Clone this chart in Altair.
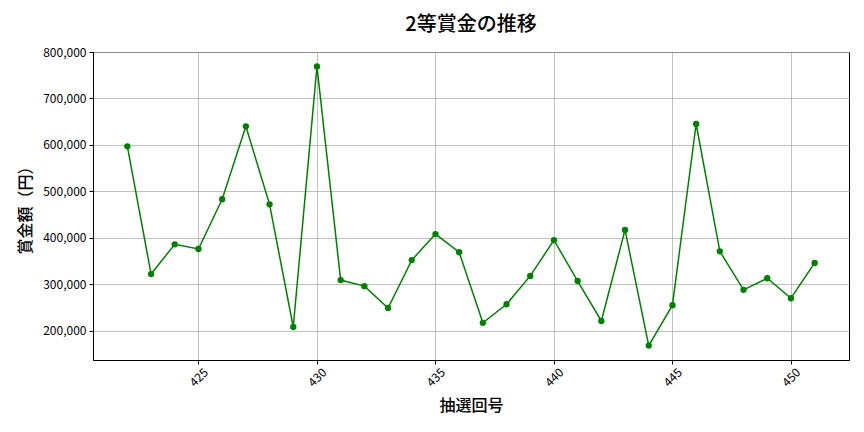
import altair as alt
import pandas as pd

draws = list(range(422, 452))
prizes = [597000, 322000, 386000, 376000, 483000, 640000, 472000, 208000, 769000, 309000,
          296000, 249000, 352000, 408000, 369000, 217000, 257000, 318000, 395000, 307000,
          221000, 417000, 168000, 255000, 645000, 371000, 288000, 313000, 270000, 346000]

x_ticks = [425, 430, 435, 440, 445, 450]
y_ticks = [200000, 300000, 400000, 500000, 600000, 700000, 800000]

df = pd.DataFrame({"draw": draws, "prize": prizes})

FONT = "Noto Sans CJK JP"

x = alt.X("draw:Q", title="抽選回号",
          scale=alt.Scale(domain=[420.55, 452.45], nice=False, zero=False),
          axis=alt.Axis(values=x_ticks, labelAngle=-45, labelAlign="center", labelBaseline="middle",
                        labelPadding=13, tickSize=4, titlePadding=9, format="d"))
y = alt.Y("prize:Q", title="賞金額（円）",
          scale=alt.Scale(domain=[137000, 800000], nice=False, zero=False),
          axis=alt.Axis(values=y_ticks, format=",d", tickSize=4, titlePadding=9, labelPadding=3))

line = alt.Chart(df).mark_line(color="green", strokeWidth=1.5).encode(x=x, y=y)
pts = alt.Chart(df).mark_point(color="green", filled=True, opacity=1, size=40).encode(x=x, y=y)

chart = (line + pts).properties(
    width=756, height=308,
    title=alt.TitleParams("2等賞金の推移", fontSize=20, font=FONT, fontWeight=500,
                          anchor="middle", offset=11, color="black"),
    autosize=alt.AutoSizeParams(type="none"),
    padding={"left": 85, "top": 44, "right": 6, "bottom": 56},
).configure_axis(
    grid=True, gridColor="#b0b0b0", gridWidth=0.8, gridOpacity=1,
    domainColor="black", domainWidth=1, tickColor="black", tickWidth=1,
    labelFont=FONT, labelFontSize=12, labelColor="black",
    titleFont=FONT, titleFontSize=16, titleFontWeight=500, titleColor="black",
).configure_view(stroke="black", strokeWidth=1)

chart.save("out.html", embed_options={"renderer": "svg", "actions": False})
